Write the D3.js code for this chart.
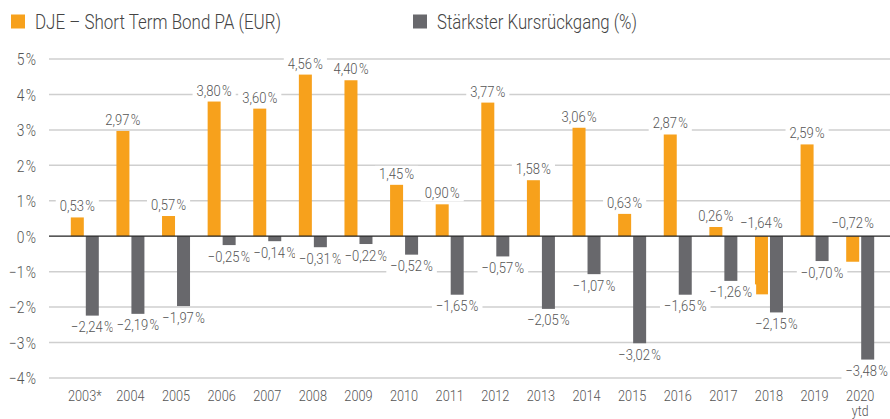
<!DOCTYPE html>
<html><head><meta charset="utf-8">
<script src="https://cdn.jsdelivr.net/npm/d3@7"></script>
<style>body{margin:0;background:#fff}svg{display:block}text{font-family:"Roboto","Noto Sans",sans-serif;font-weight:300}</style>
</head><body><svg id="c" width="890" height="419"></svg>
<script>
const years = ["2003*","2004","2005","2006","2007","2008","2009","2010","2011","2012","2013","2014","2015","2016","2017","2018","2019","2020"];
const subLabels = ["","","","","","","","","","","","","","","","","","ytd"];
const fundReturn = [0.53,2.97,0.57,3.80,3.60,4.56,4.40,1.45,0.90,3.77,1.58,3.06,0.63,2.87,0.26,-1.64,2.59,-0.72];
const maxDrawdown = [-2.24,-2.19,-1.97,-0.25,-0.14,-0.31,-0.22,-0.52,-1.65,-0.57,-2.05,-1.07,-3.02,-1.65,-1.26,-2.15,-0.70,-3.48];
const yTicks = [5,4,3,2,1,0,-1,-2,-3,-4];
const seriesNames = ["DJE – Short Term Bond PA (EUR)","Stärkster Kursrückgang (%)"];
const colors = ["#f7a11c","#68686c"];

const svg = d3.select("#c");
const y = d3.scaleLinear().domain([-4,5]).range([378,59]);
const x = d3.scaleBand().domain(years).range([62,883]).paddingInner(0).paddingOuter(0);
const barW = 13, gap = 2;
const fmt = v => d3.format(".2f")(v).replace("-","−").replace(".",",") + "\u200A%";
const K = 0.84;
function condense(sel, k){
  sel.each(function(){
    const n = this;
    const L = n.getComputedTextLength();
    if (L>0) { d3.select(n).attr("textLength", L*k).attr("lengthAdjust","spacingAndGlyphs"); }
  });
}

// grid
svg.append("g").selectAll("line").data(yTicks.filter(d=>d!==0)).join("line")
  .attr("x1",49).attr("x2",890).attr("y1",d=>y(d)).attr("y2",d=>y(d))
  .attr("stroke","#cfcfcf").attr("stroke-width",1.5);
const yAxis = d3.axisLeft(y).tickValues(yTicks).tickSize(0).tickPadding(0)
  .tickFormat(d => (d<0?"−":"") + Math.abs(d) + "\u200A%");
const ga = svg.append("g").attr("transform","translate(36,0)").call(yAxis);
ga.select(".domain").remove();
ga.attr("font-family",null);
ga.selectAll("text").attr("fill","#555").attr("font-size",16.5).attr("dy","0.35em");
condense(ga.selectAll("text"), K);

// bars
const g = svg.append("g");
g.selectAll("rect.f").data(fundReturn).join("rect")
  .attr("x",(d,i)=>x(years[i])+x.bandwidth()/2-barW-gap/2)
  .attr("width",barW)
  .attr("y",d=>y(Math.max(0,d))).attr("height",d=>Math.abs(y(d)-y(0)))
  .attr("fill",colors[0]);
g.selectAll("rect.m").data(maxDrawdown).join("rect")
  .attr("x",(d,i)=>x(years[i])+x.bandwidth()/2+gap/2)
  .attr("width",barW)
  .attr("y",d=>y(Math.max(0,d))).attr("height",d=>Math.abs(y(d)-y(0)))
  .attr("fill",colors[1]);

// zero line
svg.append("line").attr("x1",49).attr("x2",890).attr("y1",y(0)).attr("y2",y(0)).attr("stroke","#222").attr("stroke-width",1.3);

// labels with white boxes
function addLabel(cx, baseline, txt){
  const gg = svg.append("g");
  const r = gg.append("rect").attr("fill","#fff");
  const t = gg.append("text").attr("x",cx).attr("y",baseline).attr("text-anchor","middle")
    .attr("font-size",15.5).attr("fill","#555").text(txt);
  condense(t, K);
  let b = t.node().getBBox();
  if (b.x + b.width > 888) { t.attr("x", cx - (b.x + b.width - 888)); b = t.node().getBBox(); }
  r.attr("x",b.x-4).attr("y",b.y+1).attr("width",b.width+8).attr("height",b.height-2);
}
fundReturn.forEach((d,i)=>{
  const cx = x(years[i])+x.bandwidth()/2-barW/2-gap/2;
  addLabel(cx, y(Math.max(0,d))-(d<0?8:6), fmt(d));
});
maxDrawdown.forEach((d,i)=>{
  const cx = x(years[i])+x.bandwidth()/2+barW/2+gap/2;
  addLabel(cx, y(d)+16.5, fmt(d));
});

// x labels
const xl = svg.append("g").selectAll("text").data(years).join("text")
  .attr("x",d=>x(d)+x.bandwidth()/2).attr("y",401).attr("text-anchor","middle")
  .attr("font-size",15.5).attr("fill","#555").text(d=>d);
condense(xl, 0.82);
const xs = svg.append("g").selectAll("text").data(years).join("text")
  .attr("x",d=>x(d)+x.bandwidth()/2).attr("y",415.5).attr("text-anchor","middle")
  .attr("font-size",15).attr("fill","#555").text((d,i)=>subLabels[i]);
condense(xs, 0.82);

// legend
const legX = [11,413];
const legW = [246,200];
seriesNames.forEach((n,i)=>{
  svg.append("rect").attr("x",legX[i]).attr("y",14.5).attr("width",14).attr("height",14).attr("fill",colors[i]);
  svg.append("text").attr("x",legX[i]+24).attr("y",29).attr("font-size",19.5).attr("fill","#444")
    .attr("textLength",legW[i]).attr("lengthAdjust","spacingAndGlyphs").text(n);
});
</script></body></html>
